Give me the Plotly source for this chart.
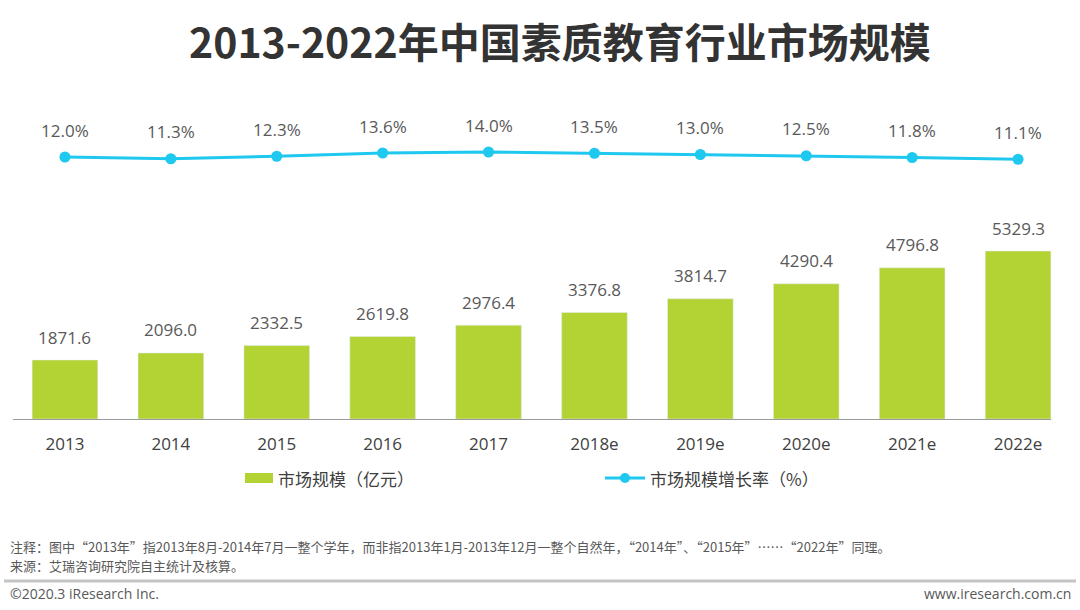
import plotly.graph_objects as go

years = ["2013", "2014", "2015", "2016", "2017", "2018e", "2019e", "2020e", "2021e", "2022e"]
market_size = [1871.6, 2096.0, 2332.5, 2619.8, 2976.4, 3376.8, 3814.7, 4290.4, 4796.8, 5329.3]
growth_rate = [12.0, 11.3, 12.3, 13.6, 14.0, 13.5, 13.0, 12.5, 11.8, 11.1]

title_text = "2013-2022年中国素质教育行业市场规模"
bar_name = "市场规模（亿元）"
line_name = "市场规模增长率（%）"
note_1 = "注释：图中“2013年”指2013年8月-2014年7月一整个学年，而非指2013年1月-2013年12月一整个自然年，“2014年”、“2015年”……“2022年”同理。"
note_2 = "来源：艾瑞咨询研究院自主统计及核算。"
footer_left = "©2020.3 iResearch Inc."
footer_right = "www.iresearch.com.cn"

BAR_COLOR = "#b3d334"
LINE_COLOR = "#1fc8ef"
TEXT_COLOR = "#404040"
LABEL_COLOR = "#595959"
FONT = "Open Sans, Noto Sans CJK SC, sans-serif"
CJK = "Noto Sans CJK SC, sans-serif"

W, H = 1080, 610
ML, MR = 12, 9
PLOT_TOP, PLOT_BOT = 100, 419
span = PLOT_BOT - PLOT_TOP
plot_w = W - ML - MR

def px(x):
    return (x - ML) / plot_w
def py(y):
    return (PLOT_BOT - y) / span

fig = go.Figure()
fig.add_trace(go.Bar(x=years, y=market_size, marker_color=BAR_COLOR, width=0.62,
                     name=bar_name, showlegend=False, hoverinfo="skip"))
fig.add_trace(go.Scatter(x=years, y=growth_rate, yaxis="y2", mode="lines+markers",
                         line=dict(color=LINE_COLOR, width=3),
                         marker=dict(size=11, color=LINE_COLOR),
                         name=line_name, showlegend=False, hoverinfo="skip"))

annotations = []
for i, v in enumerate(market_size):
    annotations.append(dict(x=i, y=v, xref="x", yref="y", text=f"{v:.1f}", showarrow=False,
                            yanchor="middle", yshift=23,
                            font=dict(family=FONT, size=17, color=LABEL_COLOR)))
for i, v in enumerate(growth_rate):
    annotations.append(dict(x=i, y=v, xref="x", yref="y2", text=f"{v:.1f}%", showarrow=False,
                            yanchor="middle", yshift=27,
                            font=dict(family=FONT, size=17, color=LABEL_COLOR)))

# title
annotations.append(dict(x=px(560), y=py(40), xref="paper", yref="paper", text=f"<b>{title_text}</b>",
                        showarrow=False, xanchor="center", yanchor="middle",
                        font=dict(family=CJK, size=41, color="#333333")))
# legend texts
annotations.append(dict(x=px(276), y=py(478), xref="paper", yref="paper", text=bar_name,
                        showarrow=False, xanchor="left", yanchor="middle",
                        font=dict(family=CJK, size=17, color=TEXT_COLOR)))
annotations.append(dict(x=px(648), y=py(478), xref="paper", yref="paper", text=line_name,
                        showarrow=False, xanchor="left", yanchor="middle",
                        font=dict(family=CJK, size=17, color=TEXT_COLOR)))
# notes
annotations.append(dict(x=px(8), y=py(546), xref="paper", yref="paper", text=note_1,
                        showarrow=False, xanchor="left", yanchor="middle",
                        font=dict(family=CJK, size=13, color=LABEL_COLOR)))
annotations.append(dict(x=px(8), y=py(565), xref="paper", yref="paper", text=note_2,
                        showarrow=False, xanchor="left", yanchor="middle",
                        font=dict(family=CJK, size=13, color=LABEL_COLOR)))
annotations.append(dict(x=px(8), y=py(593), xref="paper", yref="paper", text=footer_left,
                        showarrow=False, xanchor="left", yanchor="middle",
                        font=dict(family=FONT, size=14, color=LABEL_COLOR)))
annotations.append(dict(x=px(1073), y=py(593), xref="paper", yref="paper", text=footer_right,
                        showarrow=False, xanchor="right", yanchor="middle",
                        font=dict(family=FONT, size=14, color=LABEL_COLOR)))

shapes = [
    # baseline
    dict(type="line", xref="paper", yref="paper", x0=px(13), x1=px(1051), y0=py(419.5), y1=py(419.5),
         line=dict(color="#9a9a9a", width=1.2)),
    # legend swatch
    dict(type="rect", xref="paper", yref="paper", x0=px(245), x1=px(273), y0=py(483), y1=py(473),
         fillcolor=BAR_COLOR, line=dict(width=0)),
    dict(type="line", xref="paper", yref="paper", x0=px(605), x1=px(645), y0=py(478), y1=py(478),
         line=dict(color=LINE_COLOR, width=3)),
    dict(type="circle", xref="paper", yref="paper", x0=px(620), x1=px(630), y0=py(483), y1=py(473),
         fillcolor=LINE_COLOR, line=dict(width=0)),
    # footer separator
    dict(type="line", xref="paper", yref="paper", x0=px(4), x1=px(1076), y0=py(581), y1=py(581),
         line=dict(color="#c4c4c4", width=3)),
]

bar_scale = 0.03152
line_scale = 2.5
y2_bottom = 14.0 - (PLOT_BOT - 152) / line_scale
y2_top = y2_bottom + span / line_scale

fig.update_layout(
    width=W, height=H,
    margin=dict(l=ML, r=MR, t=PLOT_TOP, b=H - PLOT_BOT),
    paper_bgcolor="white", plot_bgcolor="white",
    bargap=0.38,
    xaxis=dict(type="category", range=[-0.5, len(years) - 0.5], showgrid=False, showline=False,
               zeroline=False, ticks="",
               tickfont=dict(family=FONT, size=17, color=TEXT_COLOR), ticklabelstandoff=13,
               fixedrange=True),
    yaxis=dict(range=[0, span / bar_scale], visible=False, fixedrange=True),
    yaxis2=dict(range=[y2_bottom, y2_top], overlaying="y", visible=False, fixedrange=True),
    annotations=annotations,
    shapes=shapes,
    showlegend=False,
)

fig.write_html("out.html", config={"displayModeBar": False},
               post_script="document.body.style.margin='0';document.body.style.overflow='hidden';")
